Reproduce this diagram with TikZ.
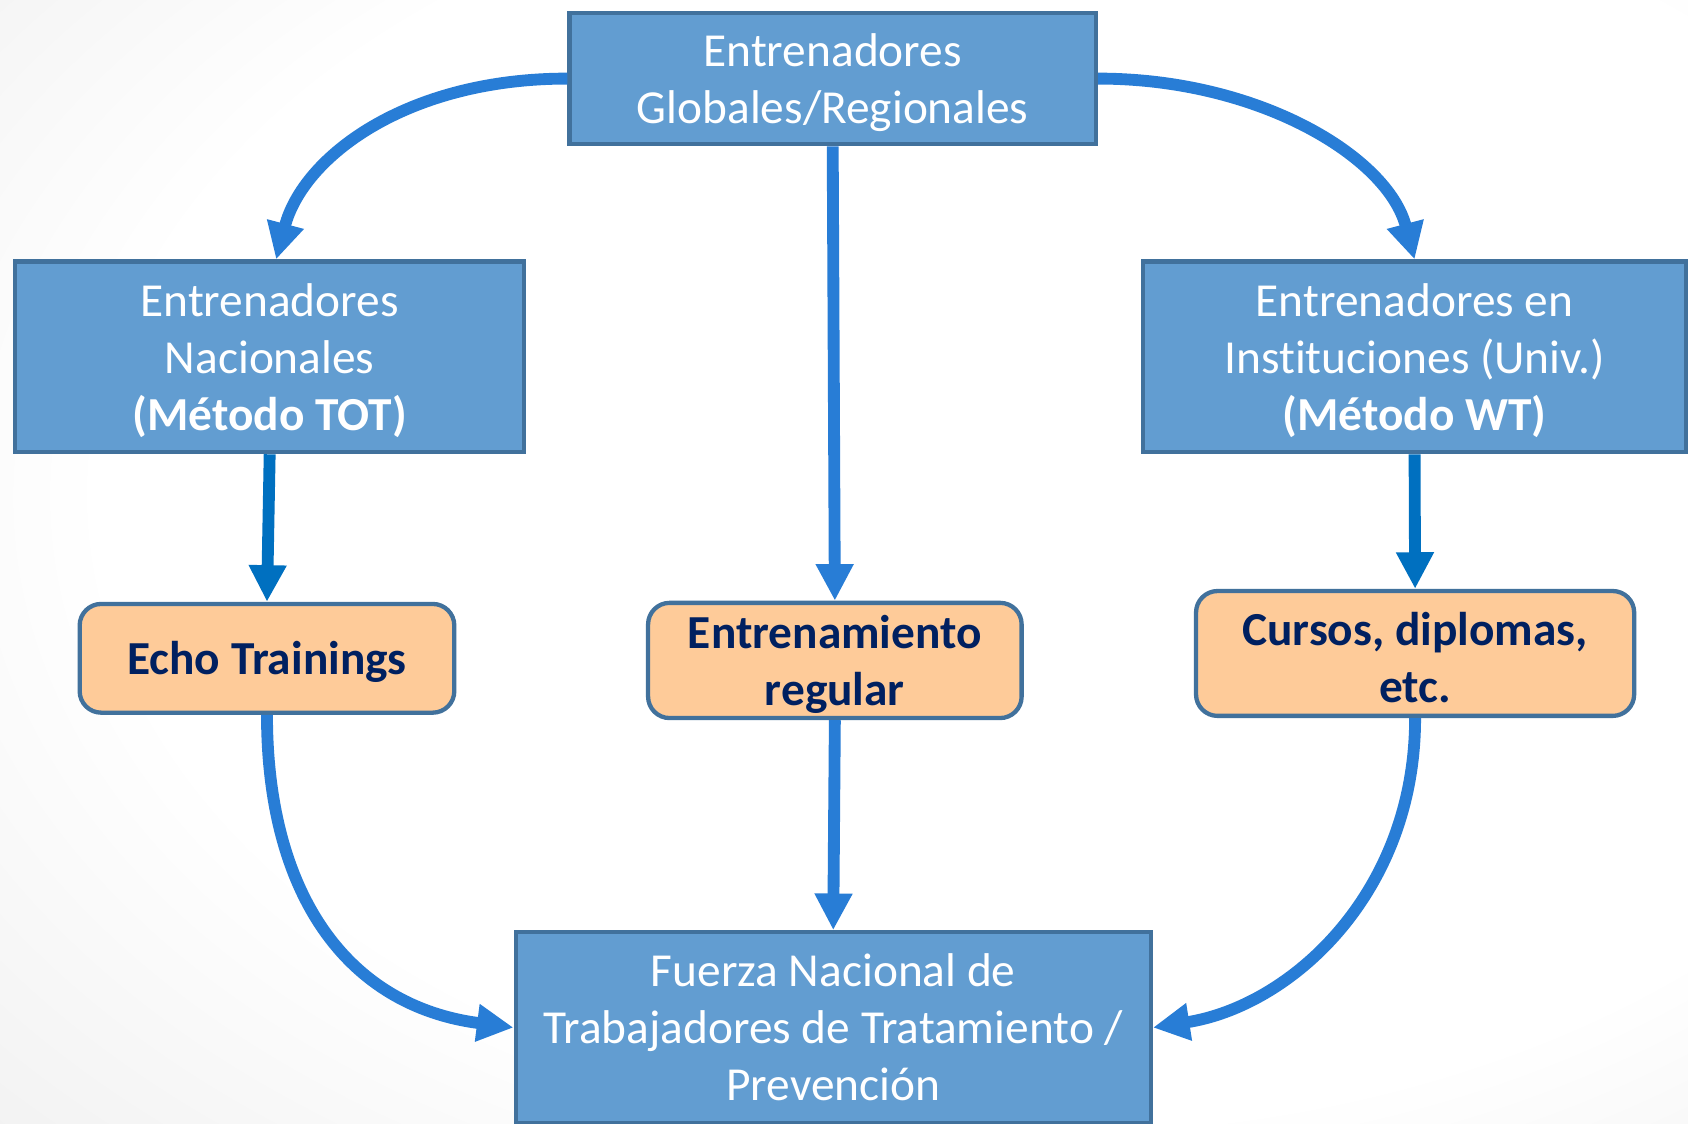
\documentclass[tikz,border=0pt]{standalone}
\usepackage{fontspec}
\setmainfont{Carlito}[Ligatures=NoCommon]
\usetikzlibrary{arrows.meta}
\definecolor{boxblue}{RGB}{98,157,209}
\definecolor{boxedge}{RGB}{65,113,156}
\definecolor{peach}{RGB}{254,203,153}
\definecolor{navy}{RGB}{0,32,96}
\definecolor{arrowblue}{RGB}{40,125,214}
\definecolor{arrowdark}{RGB}{0,112,192}
\newcommand{\mystrut}{\rule{0pt}{19pt}}
\pgfdeclareradialshading{bgshade}{\pgfpoint{10bp}{5bp}}{color(0bp)=(white); color(28bp)=(white); color(50bp)=(black!9); color(72bp)=(black!15)}
\begin{document}
\begin{tikzpicture}[x=0.5pt,y=-0.5pt,
  bluebox/.style={draw=boxedge, line width=2pt, fill=boxblue, text=white, align=center, inner sep=0pt,
    font=\fontsize{22}{26.5}\selectfont},
  peachbox/.style={draw=boxedge, line width=2pt, fill=peach, text=navy, rounded corners=10pt, align=center, inner sep=0pt,
    font=\bfseries\fontsize{22}{26.5}\selectfont},
  conn/.style={draw=arrowblue, line width=5.5pt, -{Triangle[length=17pt,width=16.5pt]}},
  conndark/.style={conn, draw=arrowdark}]
\path[shading=bgshade] (0,0) rectangle (1568,1044);
\useasboundingbox (0,0) rectangle (1568,1044);

\node[bluebox, minimum width=244.5pt, minimum height=61pt] (top) at (773.5,73) {\mystrut Entrenadores\\Globales/Regionales};
\node[bluebox, minimum width=236.5pt, minimum height=88.5pt] (nat) at (250.5,331.5) {\mystrut Entrenadores\\Nacionales\\\textbf{(Método TOT)}};
\node[bluebox, minimum width=252pt, minimum height=88.5pt] (inst) at (1314,331.5) {\mystrut Entrenadores en\\Instituciones (Univ.)\\\textbf{(Método WT)}};
\node[bluebox, minimum width=295pt, minimum height=88.5pt] (fuerza) at (774,954.5) {Fuerza Nacional de\\Trabajadores de Tratamiento /\\Prevención};

\node[peachbox, minimum width=174pt, minimum height=50.5pt] (echo) at (248,611.5) {\mystrut Echo Trainings};
\node[peachbox, minimum width=173.5pt, minimum height=53.5pt] (reg) at (775.5,613.5) {\mystrut Entrenamiento\\regular};
\node[peachbox, minimum width=203.5pt, minimum height=58pt] (cur) at (1314.5,607) {\mystrut Cursos, diplomas,\\etc.};

\draw[conn] (top.west) .. controls +(-150,0) and +(25,-95) .. ([xshift=3pt]nat.north);
\draw[conn] (top.east) .. controls +(150,0) and +(-25,-95) .. (inst.north);
\draw[conn] (top.south) -- (reg.north);
\draw[conndark] (nat.south) -- (echo.north);
\draw[conndark] (inst.south) -- (cur.north);
\draw[conn] (echo.south) .. controls +(0,166) and +(-155,-20) .. (fuerza.west);
\draw[conn] (reg.south) -- (fuerza.north);
\draw[conn] (cur.south) .. controls +(0,163) and +(128,-20) .. (fuerza.east);
\end{tikzpicture}
\end{document}
